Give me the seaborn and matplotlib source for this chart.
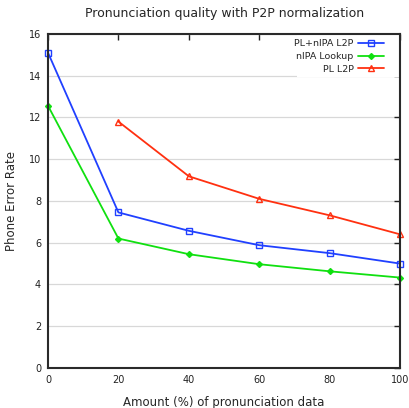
import matplotlib
matplotlib.use("Agg")
import matplotlib.pyplot as plt
from matplotlib.patches import Rectangle
import seaborn as sns
import pandas as pd

amount = [0, 20, 40, 60, 80, 100]
pl_nipa_l2p = [15.1, 7.45, 6.57, 5.88, 5.5, 5.0]
nipa_lookup = [12.56, 6.2, 5.45, 4.97, 4.63, 4.33]
pl_l2p_x = [20, 40, 60, 80, 100]
pl_l2p = [11.8, 9.18, 8.1, 7.31, 6.4]
series_names = ["PL+nIPA L2P", "nIPA Lookup", "PL L2P"]

rows = []
for x, y in zip(amount, pl_nipa_l2p):
    rows.append((series_names[0], x, y))
for x, y in zip(amount, nipa_lookup):
    rows.append((series_names[1], x, y))
for x, y in zip(pl_l2p_x, pl_l2p):
    rows.append((series_names[2], x, y))
df = pd.DataFrame(rows, columns=["series", "amount", "per"])

sns.set_theme(style="white")
plt.rcParams['font.family'] = ['DejaVu Sans']

fig = plt.figure(figsize=(4.1, 4.08), dpi=100)
ax = fig.add_axes([0.117, 0.098, 0.859, 0.819])

colors = {"PL+nIPA L2P": "#2040ff", "nIPA Lookup": "#10e010", "PL L2P": "#ff3010"}
markers = {"PL+nIPA L2P": "s", "nIPA Lookup": "D", "PL L2P": "^"}
for name in series_names:
    sub = df[df.series == name]
    c = colors[name]
    filled = name == "nIPA Lookup"
    sns.lineplot(data=sub, x="amount", y="per", ax=ax, color=c, lw=1.3,
                 marker=markers[name], markersize=3 if filled else 5,
                 markerfacecolor=c if filled else "none", markeredgecolor=c,
                 markeredgewidth=1.0, label=name, zorder=3, clip_on=False)

ax.set_xlim(0, 100)
ax.set_ylim(0, 16)
ax.set_xticks(amount)
ax.set_yticks(range(0, 17, 2))
ax.yaxis.grid(True, color="#d8d8d8", lw=0.9)
ax.xaxis.grid(False)
ax.set_axisbelow(True)
for s in ax.spines.values():
    s.set_color("#2a2a2a")
    s.set_linewidth(1.5)
    s.set_zorder(5)
ax.tick_params(direction="in", length=4, width=1, top=True, right=True,
               labelsize=7, colors="#222222", pad=5)
ax.set_xlabel("Amount (%) of pronunciation data", fontsize=8.5, labelpad=8)
ax.set_ylabel("Phone Error Rate", fontsize=8.5, labelpad=8)
ax.set_title("Pronunciation quality with P2P normalization", fontsize=9, pad=12)

# white key background box
ax.add_patch(Rectangle((0.707, 0.871), 0.293, 0.129, transform=ax.transAxes,
                       facecolor="white", edgecolor="none", zorder=2))

leg = ax.legend(loc="upper right", bbox_to_anchor=(0.97, 1.0), markerfirst=False,
                frameon=False, fontsize=6.8, borderaxespad=0.0, handlelength=2.8,
                labelspacing=0.4, borderpad=0.55, handletextpad=0.45,
                alignment="right")
for t in leg.get_texts():
    t.set_ha("right")

fig.savefig("out.png", dpi=100)
